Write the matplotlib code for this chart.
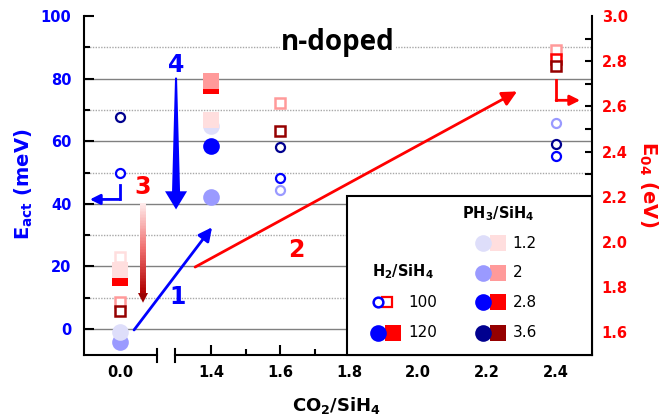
import numpy as np
import matplotlib.pyplot as plt
from matplotlib.patches import Polygon, Rectangle
from matplotlib.collections import LineCollection
from matplotlib.colors import LinearSegmentedColormap

plt.rcParams['font.family'] = ['DejaVu Sans']
plt.rcParams['mathtext.default'] = 'bf'

# E_act (left axis, circles)
eact_co2 = [0.0, 0.0, 1.6, 1.6, 1.6, 2.4, 2.4, 2.4, 0.0, 0.0, 1.4, 1.4, 1.4]
eact_val = [67.6, 49.8, 44.3, 58.1, 48.2, 65.9, 59.0, 55.3, -4.0, -1.0, 42.1, 65.0, 58.6]
eact_ph3 = [3.6, 2.8, 2, 3.6, 2.8, 2, 3.6, 2.8, 2, 1.2, 2, 1.2, 2.8]
eact_h2 = [100, 100, 100, 100, 100, 100, 100, 100, 120, 120, 120, 120, 120]

# E04 (right axis, squares)
e04_co2 = [0.0, 0.0, 0.0, 1.6, 1.6, 2.4, 2.4, 2.4, 0.0, 0.0, 1.4, 1.4, 1.4]
e04_val = [1.933, 1.733, 1.693, 2.613, 2.49, 2.848, 2.81, 2.78, 1.84, 1.875, 2.538, 2.689, 2.711]
e04_ph3 = [1.2, 2, 3.6, 2, 3.6, 2, 2.8, 3.6, 2.8, 1.2, 1.2, 2.8, 2]
e04_h2 = [100, 100, 100, 100, 100, 100, 100, 100, 120, 120, 120, 120, 120]

ph3_levels = [1.2, 2, 2.8, 3.6]
ph3_labels = ['1.2', '2', '2.8', '3.6']
h2_levels = [100, 120]
h2_labels = ['100', '120']
x_ticks = [0.0, 1.4, 1.6, 1.8, 2.0, 2.2, 2.4]

circle_colors = {1.2: '#dedefa', 2: '#9a9aff', 2.8: '#0000ff', 3.6: '#00008f'}
square_colors = {1.2: '#ffdede', 2: '#ff9a9a', 2.8: '#ff0000', 3.6: '#950000'}

# broken x axis: the CO2 = 0 point sits left of the break
XMIN, XMAX = 1.032, 2.504
ZERO_POS = 1.136
BREAK_L, BREAK_R = 1.2436, 1.2958


def xpos(c):
    return c + ZERO_POS if c < 1 else c


BLUE = '#0000ff'
RED = '#ff0000'

fig = plt.figure(figsize=(6.71, 4.17), dpi=100)
ax = fig.add_axes([84 / 671, 62 / 417, 508 / 671, 339 / 417])
ax2 = ax.twinx()

ax.set_xlim(XMIN, XMAX)
ax.set_ylim(-8.3, 100)
ax2.set_ylim(1.5, 3.0)

# gridlines
for v in [0, 20, 40, 60, 80]:
    ax.axhline(v, color='#808080', lw=1, zorder=1)
for v in [10, 30, 50, 70, 90]:
    ax.axhline(v, color='#a8a8a8', lw=1, ls=(0, (1, 1)), zorder=1)

# circles (E_act)
for i in range(len(eact_val)):
    c = circle_colors[eact_ph3[i]]
    if eact_h2[i] == 100:
        ax.plot(xpos(eact_co2[i]), eact_val[i], 'o', ms=6.5, mfc='white', mec=c, mew=1.6, zorder=4)
    else:
        ax.plot(xpos(eact_co2[i]), eact_val[i], 'o', ms=12, color=c, mew=0, zorder=4)

# squares (E04)
for i in range(len(e04_val)):
    c = square_colors[e04_ph3[i]]
    if e04_h2[i] == 100:
        ax2.plot(xpos(e04_co2[i]), e04_val[i], 's', ms=7.2, mfc='white', mec=c, mew=1.8, zorder=4)
    else:
        ax2.plot(xpos(e04_co2[i]), e04_val[i], 's', ms=11.5, color=c, mew=0, zorder=4)

# spines and ticks
for s in ['top', 'right', 'bottom']:
    ax.spines[s].set_visible(False)
for s in ['top', 'left', 'bottom']:
    ax2.spines[s].set_visible(False)
ax.spines['left'].set_linewidth(1.5)
ax2.spines['right'].set_linewidth(1.5)

xt = [xpos(v) for v in x_ticks]
ax.set_xticks(xt)
ax.set_xticklabels(['%.1f' % v for v in x_ticks])
ax.set_xticks([1.5, 1.7, 1.9, 2.1, 2.3], minor=True)
ax.xaxis.get_major_ticks()[0].tick1line.set_visible(False)
ax.tick_params(axis='x', which='major', direction='in', length=7, width=1.5, pad=7,
               labelsize=10.5, labelcolor='black')
ax.tick_params(axis='x', which='minor', direction='in', length=4, width=1.5)
for lab in ax.get_xticklabels():
    lab.set_fontweight('bold')

ax.set_yticks(np.arange(0, 101, 20))
ax.set_yticks(np.arange(10, 91, 20), minor=True)
ax.tick_params(axis='y', which='major', direction='in', length=7, width=1.5, pad=9,
               labelsize=10.5, labelcolor=BLUE)
ax.tick_params(axis='y', which='minor', direction='in', length=4, width=1.5)
for lab in ax.get_yticklabels():
    lab.set_fontweight('bold')

ax2.set_yticks(np.arange(1.6, 3.01, 0.2))
ax2.set_yticklabels(['%.1f' % v for v in np.arange(1.6, 3.01, 0.2)])
ax2.yaxis.remove_overlapping_locs = False
ax2.set_yticks(np.arange(2.3, 2.91, 0.1), minor=True)
ax2.tick_params(axis='y', which='major', length=0, pad=7, labelsize=10.5, labelcolor=RED)
ax2.tick_params(axis='y', which='minor', direction='in', length=5, width=1.5)
for lab in ax2.get_yticklabels():
    lab.set_fontweight('bold')

# broken bottom axis
tr = ax.get_xaxis_transform()
ax.plot([XMIN, BREAK_L], [0, 0], color='black', lw=1.5, transform=tr, clip_on=False, zorder=5)
ax.plot([BREAK_R, XMAX], [0, 0], color='black', lw=1.5, transform=tr, clip_on=False, zorder=5)
for b in [BREAK_L, BREAK_R]:
    ax.plot([b, b], [-0.02, 0.018], color='black', lw=1.5, transform=tr, clip_on=False, zorder=5)

# axis labels
fig.text(24 / 671, 1 - 184 / 417, r'E$_{act}$ (meV)', rotation=90, ha='center', va='center',
         color=BLUE, fontsize=14, fontweight='bold')
fig.text(648 / 671, 1 - 184 / 417, r'E$_{04}$ (eV)', rotation=270, ha='center', va='center',
         color=RED, fontsize=14, fontweight='bold')
fig.text(337 / 671, 1 - 406 / 417, r'CO$_2$/SiH$_4$', ha='center', va='center',
         color='black', fontsize=13, fontweight='bold')

ax.text(1.768, 91.5, 'n-doped', ha='center', va='center', fontsize=20, fontweight='bold',
        family=['Open Sans', 'DejaVu Sans'], zorder=6,
        bbox=dict(facecolor='white', edgecolor='none', pad=1))

# arrow 4 (tapered, blue)
u4 = 1.2987
px = 1 / 345
ax.add_patch(Polygon([(u4 - 1 * px, 80.3), (u4 + 1 * px, 80.3), (u4 + 4 * px, 44.0),
                      (u4 + 11 * px, 44.0), (u4, 38.2), (u4 - 11 * px, 44.0),
                      (u4 - 4 * px, 44.0)], closed=True, color=BLUE, lw=0, zorder=5))
ax.text(u4, 84.5, '4', color=BLUE, fontsize=17, fontweight='bold', ha='center', va='center')

# arrow 3 (gradient red)
u3 = 1.203
cmap3 = LinearSegmentedColormap.from_list('r3', ['#ffeaea', '#f07070', '#b00000'])
ys = np.linspace(40.2, 11.5, 60)
segs = [[(u3, ys[k]), (u3, ys[k + 1])] for k in range(len(ys) - 1)]
lc = LineCollection(segs, colors=cmap3(np.linspace(0, 1, len(segs))), linewidths=4.3,
                    capstyle='butt', zorder=5)
ax.add_collection(lc)
ax.add_patch(Polygon([(u3 - 5 * px, 11.5), (u3 + 5 * px, 11.5), (u3, 8.4)], closed=True,
                     color='#9a0000', lw=0, zorder=5))
ax.text(u3, 45.3, '3', color=RED, fontsize=17, fontweight='bold', ha='center', va='center')

# arrow 1 (blue)
ax.annotate('', xy=(1.403, 32.5), xytext=(1.177, -0.3),
            arrowprops=dict(arrowstyle='-|>', color=BLUE, lw=2, mutation_scale=20,
                            shrinkA=0, shrinkB=0), zorder=5)
ax.text(1.302, 10.2, '1', color=BLUE, fontsize=17, fontweight='bold', ha='center', va='center')

# arrow 2 (red)
ax.annotate('', xy=(2.287, 75.9), xytext=(1.354, 19.8),
            arrowprops=dict(arrowstyle='-|>', color=RED, lw=2, mutation_scale=22,
                            shrinkA=0, shrinkB=0), zorder=5)
ax.text(1.646, 25.2, '2', color=RED, fontsize=17, fontweight='bold', ha='center', va='center')

# bent arrows pointing to each axis
ax.plot([ZERO_POS, ZERO_POS], [45.9, 41.4], color=BLUE, lw=2, zorder=5)
ax.annotate('', xy=(1.049, 41.4), xytext=(ZERO_POS, 41.4),
            arrowprops=dict(arrowstyle='-|>', color=BLUE, lw=2, mutation_scale=15,
                            shrinkA=0, shrinkB=0), zorder=5)
ax2.plot([2.40, 2.40], [2.719, 2.627], color=RED, lw=2, zorder=5)
ax2.annotate('', xy=(2.4696, 2.627), xytext=(2.40, 2.627),
             arrowprops=dict(arrowstyle='-|>', color=RED, lw=2, mutation_scale=15,
                             shrinkA=0, shrinkB=0), zorder=5)

# legend box
T = ax2.transAxes
ax2.add_patch(Rectangle((0.5177, 0), 0.4823, 0.469, transform=T, facecolor='white',
                        edgecolor='black', lw=1.5, zorder=10, clip_on=False))
ax2.text(0.815, 0.416, r'PH$_3$/SiH$_4$', transform=T, ha='center', va='center',
         fontsize=10.5, fontweight='bold', zorder=12)
row_y = [0.330, 0.242, 0.156, 0.065]
for k, lv in enumerate(ph3_levels):
    ax2.plot(0.815, row_y[k], 's', ms=11.5, color=square_colors[lv], mew=0, transform=T,
             zorder=11, clip_on=False)
    ax2.plot(0.785, row_y[k], 'o', ms=12, color=circle_colors[lv], mew=0, transform=T,
             zorder=11, clip_on=False)
    ax2.text(0.844, row_y[k], ph3_labels[k], transform=T, ha='left', va='center',
             fontsize=11, zorder=12)

ax2.text(0.628, 0.245, r'H$_2$/SiH$_4$', transform=T, ha='center', va='center',
         fontsize=10.5, fontweight='bold', zorder=12)
for k, lv in enumerate(h2_levels):
    y = row_y[2 + k]
    if lv == 100:
        ax2.plot(0.596, y, 's', ms=7, mfc='white', mec=RED, mew=1.6, transform=T,
                 zorder=11, clip_on=False)
        ax2.plot(0.579, y, 'o', ms=7, mfc='white', mec=BLUE, mew=1.8, transform=T,
                 zorder=11, clip_on=False)
    else:
        ax2.plot(0.608, y, 's', ms=11.5, color=RED, mew=0, transform=T, zorder=11,
                 clip_on=False)
        ax2.plot(0.579, y, 'o', ms=12, color=BLUE, mew=0, transform=T, zorder=11,
                 clip_on=False)
    ax2.text(0.638, y, h2_labels[k], transform=T, ha='left', va='center', fontsize=11,
             zorder=12)

fig.savefig('out.png', dpi=100)
